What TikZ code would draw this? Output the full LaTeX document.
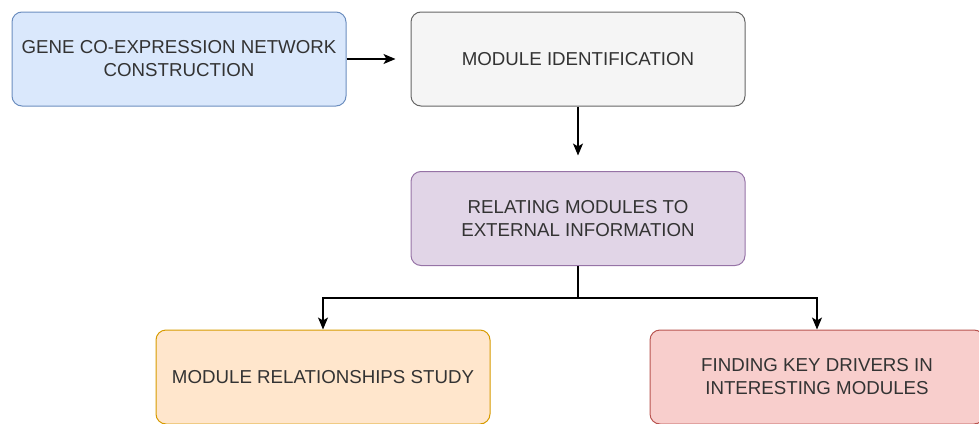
\documentclass[tikz,border=0pt]{standalone}
\usepackage{fontspec}
\setmainfont{Liberation Sans}
\usetikzlibrary{arrows.meta}
\definecolor{txt}{HTML}{333333}
\definecolor{bluef}{HTML}{DAE8FC}\definecolor{blued}{HTML}{6C8EBF}
\definecolor{grayf}{HTML}{F5F5F5}\definecolor{grayd}{HTML}{666666}
\definecolor{purpf}{HTML}{E1D5E7}\definecolor{purpd}{HTML}{9673A6}
\definecolor{orf}{HTML}{FFE6CC}\definecolor{ord}{HTML}{D79B00}
\definecolor{redf}{HTML}{F8CECC}\definecolor{redd}{HTML}{B85450}
\tikzset{
  box/.style={draw, rounded corners=10pt, line width=1pt, minimum width=334pt, minimum height=94pt,
    inner sep=0pt, align=center, text=txt, font=\fontsize{18.7}{23}\selectfont},
  conn/.style={line width=1.2pt, -{Stealth[length=12pt,width=10pt,inset=3pt]}}
}
\begin{document}
\begin{tikzpicture}[x=1pt,y=-1pt]
\useasboundingbox (0,0) rectangle (979,423);
\node[box, fill=bluef, draw=blued] (gene) at (179,59) {GENE CO-EXPRESSION NETWORK\\CONSTRUCTION};
\node[box, fill=grayf, draw=grayd] (ident) at (578,59) {MODULE IDENTIFICATION};
\node[box, fill=purpf, draw=purpd] (relate) at (578,218.5) {RELATING MODULES TO\\EXTERNAL INFORMATION};
\node[box, fill=orf, draw=ord] (study) at (323,377) {MODULE RELATIONSHIPS STUDY};
\node[box, fill=redf, draw=redd] (drivers) at (817,377) {FINDING KEY DRIVERS IN\\INTERESTING MODULES};
\coordinate (a1) at ([xshift=49pt]gene.east);
\coordinate (a2) at ([yshift=-49pt]ident.south);
\draw[conn] (gene.east) -- (a1);
\draw[conn] (ident.south) -- (a2);
\draw[conn] (relate.south) -- ++(0,32) -| (study.north);
\draw[conn] (relate.south) -- ++(0,32) -| (drivers.north);
\end{tikzpicture}
\end{document}
